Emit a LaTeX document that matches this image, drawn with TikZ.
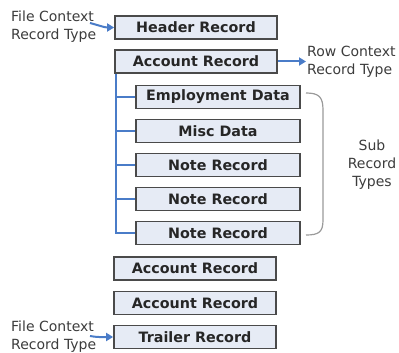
\documentclass[tikz,border=0pt]{standalone}
\usepackage{fontspec}
\setmainfont{DejaVu Sans}
\usetikzlibrary{arrows.meta}
\definecolor{boxfill}{HTML}{E6EBF5}
\definecolor{boxline}{HTML}{4A4A4A}
\definecolor{linkblue}{HTML}{4A7CC8}
\definecolor{labelgray}{HTML}{3C3C3C}
\definecolor{bracegray}{HTML}{9A9A9A}
\tikzset{
  recbox/.style={draw=boxline, line width=1.7pt, fill=boxfill, minimum width=162pt, minimum height=23pt,
    inner sep=0pt, font=\fontsize{14.3}{16}\selectfont\bfseries, text=black!85},
  subbox/.style={recbox, minimum width=164pt},
  lbl/.style={inner sep=0pt, align=left, font=\fontsize{14}{18}\selectfont, text=labelgray},
  link/.style={draw=linkblue, line width=2pt},
  linkarrow/.style={link, -{Triangle[length=7pt,width=8pt]}},
}
\begin{document}
\begin{tikzpicture}[x=1pt,y=-1pt]
\useasboundingbox (0,0) rectangle (399,353);
% main record boxes
\node[recbox] (header) at (196,27.5) {Header Record};
\node[recbox] (acc1) at (196,61.5) {Account Record};
\node[subbox] (emp) at (218,97) {Employment Data};
\node[subbox] (misc) at (218,131) {Misc Data};
\node[subbox] (note1) at (218,165) {Note Record};
\node[subbox] (note2) at (218,199) {Note Record};
\node[subbox] (note3) at (218,233) {Note Record};
\node[recbox] (acc2) at (195,268.5) {Account Record};
\node[recbox] (acc3) at (195,303) {Account Record};
\node[recbox] (trailer) at (195,337) {Trailer Record};
% tree connectors
\coordinate (trunk) at ([xshift=2pt]acc1.south west);
\draw[link] (trunk) |- (note3.west);
\foreach \n in {emp,misc,note1,note2}
  \draw[link] (trunk |- \n.west) -- (\n.west);
% labels
\node[lbl, anchor=north west] (ftop) at (11,11) {File Context\\Record Type};
\node[lbl, anchor=north west] (row) at (307,46) {Row Context\\Record Type};
\node[lbl, anchor=north west] (fbot) at (11,321) {File Context\\Record Type};
\node[lbl, align=center] (sub) at (372,165) {Sub\\Record\\Types};
% arrows
\coordinate (a1) at (90,23);
\draw[linkarrow] (a1) to[out=-15,in=180] (header.west);
\coordinate (a2) at (90,336);
\draw[linkarrow] (a2) to[out=-10,in=180] (trailer.west);
\coordinate (a3) at (306,61.5);
\draw[linkarrow] (acc1.east) -- (a3);
% brace
\coordinate (b1) at (306,93);
\coordinate (b2) at (306,235);
\draw[bracegray, line width=1.2pt] (b1) .. controls (319,93) and (323,97) .. (323,110)
  -- (323,220) .. controls (323,232) and (319,235) .. (b2);
\end{tikzpicture}
\end{document}
